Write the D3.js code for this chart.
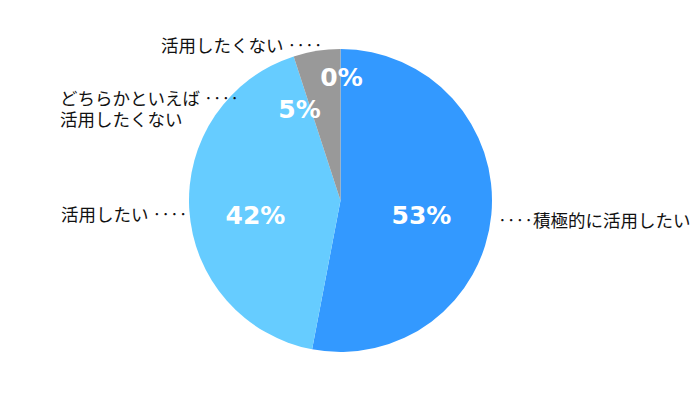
<!DOCTYPE html>
<html>
<head>
<meta charset="utf-8">
<script src="https://cdn.jsdelivr.net/npm/d3@7"></script>
<style>
  body { margin: 0; background: #fff; }
  svg { display: block; }
  .cat { font-family: "Noto Sans CJK JP", "Noto Sans", sans-serif; font-size: 17.5px; fill: #111; }
  .pct { font-family: "DejaVu Sans", Verdana, sans-serif; font-weight: bold; font-size: 25px; fill: #fff; }
</style>
</head>
<body>
<div id="chart"></div>
<script>
// answers, clockwise from 12 o'clock
let categories = ['積極的に活用したい', '活用したい', 'どちらかといえば活用したくない', '活用したくない'];
let shares = [53, 42, 5, 0];
let colors = ['#3399ff', '#66ccff', '#999999', '#7f7f7f'];

// where Excel put the labels (relative to pie centre), hand placed like the original
let pctOffsets = [[81, 23], [-85, 23], [-41, -83], [1, -115]];
let catLabels = [
    {lines: ['‥‥積極的に活用したい'], x: 498, y: 227},
    {lines: ['活用したい ‥‥'], x: 61, y: 221},
    {lines: ['どちらかといえば ‥‥', '活用したくない'], x: 60, y: 105},
    {lines: ['活用したくない ‥‥'], x: 161, y: 52}
];

let width = 700, height = 418;
let cx = 340.5, cy = 200.5, radius = 151.5;

let svg = d3.select('#chart').append('svg')
    .attr('width', width)
    .attr('height', height);

let data = categories.map((c, i) => ({name: c, value: shares[i], color: colors[i]}));

let pie = d3.pie()
    .sort(null)
    .value(d => d.value);

let arc = d3.arc()
    .innerRadius(0)
    .outerRadius(radius);

let g = svg.append('g')
    .attr('transform', 'translate(' + cx + ',' + cy + ')');

g.selectAll('path.slice')
    .data(pie(data))
    .enter().append('path')
    .attr('class', 'slice')
    .attr('d', arc)
    .attr('fill', d => d.data.color);

// percentage labels
g.selectAll('text.pct')
    .data(data)
    .enter().append('text')
    .attr('class', 'pct')
    .attr('x', (d, i) => pctOffsets[i][0])
    .attr('y', (d, i) => pctOffsets[i][1])
    .attr('text-anchor', 'middle')
    .text(d => d3.format('.0f')(d.value) + '%');

// category labels
catLabels.forEach(l => {
    let t = svg.append('text')
        .attr('class', 'cat')
        .attr('x', l.x)
        .attr('y', l.y);
    l.lines.forEach((line, k) => {
        t.append('tspan')
            .attr('x', l.x)
            .attr('dy', k === 0 ? 0 : 21)
            .text(line);
    });
});
</script>
</body>
</html>
